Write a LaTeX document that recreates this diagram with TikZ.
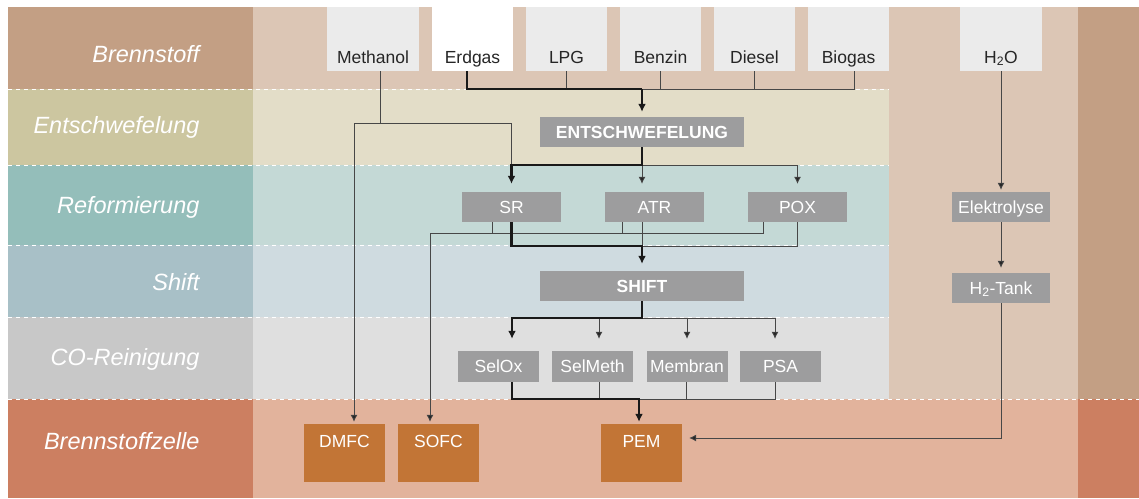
\documentclass[tikz,border=0pt]{standalone}
\usepackage{fontspec}
\setmainfont{Liberation Sans}
\usetikzlibrary{arrows.meta, calc}

\definecolor{fuelLab}{HTML}{C39F84}
\definecolor{fuelMain}{HTML}{DCC6B5}
\definecolor{desLab}{HTML}{CCC6A0}
\definecolor{desMain}{HTML}{E3DDC8}
\definecolor{refLab}{HTML}{94BEBA}
\definecolor{refMain}{HTML}{C4D9D6}
\definecolor{shiftLab}{HTML}{A8C0C7}
\definecolor{shiftMain}{HTML}{CFDBE0}
\definecolor{coLab}{HTML}{C8C8C8}
\definecolor{coMain}{HTML}{DFDFDF}
\definecolor{cellLab}{HTML}{CC7F61}
\definecolor{cellMain}{HTML}{E2B39C}
\definecolor{fuelGrey}{HTML}{EBEBEB}
\definecolor{procGrey}{HTML}{9D9D9E}
\definecolor{cellOrange}{HTML}{C27536}
\definecolor{lineGrey}{HTML}{474747}

\begin{document}
\begin{tikzpicture}[x=1pt, y=-1pt,
    every node/.style={font=\fontsize{17.5}{20}\selectfont},
    fuelbox/.style={rectangle, fill=fuelGrey, inner sep=0pt, minimum width=81pt, text height=56pt, text depth=8pt, text=black!85},
    procbox/.style={rectangle, fill=procGrey, inner sep=0pt, minimum height=30pt, text height=12.5pt, text depth=0pt, text=white},
    cellbox/.style={rectangle, fill=cellOrange, inner sep=0pt, minimum width=81pt, text height=23.5pt, text depth=34.5pt, text=white},
    rowlabel/.style={font=\fontsize{23.5}{28}\selectfont\itshape, text=white, anchor=base east},
    arrow/.style={-{Latex[length=7pt, width=7pt, fill=black!85]}, line width=0.8pt, draw=lineGrey},
    bigarrow/.style={-{Latex[length=8pt, width=8pt]}, line width=2.4pt, draw=black!90},
    thinline/.style={line width=0.8pt, draw=lineGrey},
    thickline/.style={line width=2.4pt, draw=black!90},
    rowsep/.style={white, dash pattern=on 4pt off 4pt, line width=0.8pt}
]

% ============ BACKGROUND ============
\fill[white] (0,0) rectangle (1139,498);
\useasboundingbox (0,0) rectangle (1139,498);

\foreach \top/\bot/\lab/\main in {7/89/fuelLab/fuelMain, 89/165/desLab/desMain, 165/245/refLab/refMain, 245/317/shiftLab/shiftMain, 317/399/coLab/coMain, 399/498/cellLab/cellMain} {
    \fill[\lab] (8,\top) rectangle (253,\bot);
    \fill[\main] (253,\top) rectangle (889,\bot);
}
\fill[fuelMain] (889,7) rectangle (1078,399);
\fill[cellMain] (889,399) rectangle (1078,498);
\fill[fuelLab] (1078,7) rectangle (1139,399);
\fill[cellLab] (1078,399) rectangle (1139,498);

\foreach \y in {89,165,245,317}
    \draw[rowsep] (8,\y) -- (889,\y);
\draw[rowsep] (8,399) -- (1139,399);

% ============ ROW LABELS ============
\node[rowlabel] (labFuel) at (203,62.5) {Brennstoff};
\node[rowlabel] (labDes) at (203,133.5) {Entschwefelung};
\node[rowlabel] (labRef) at (203,213.5) {Reformierung};
\node[rowlabel] (labShift) at (203,290) {Shift};
\node[rowlabel] (labCO) at (203,365) {CO-Reinigung};
\node[rowlabel] (labCell) at (203,449.5) {Brennstoffzelle};

% ============ FUELS ============
\node[fuelbox, minimum width=92pt] (Methanol) at (373,39) {Methanol};
\node[fuelbox, fill=white] (Erdgas) at (472.5,39) {Erdgas};
\node[fuelbox] (LPG) at (566.5,39) {LPG};
\node[fuelbox] (Benzin) at (660.5,39) {Benzin};
\node[fuelbox] (Diesel) at (754.5,39) {Diesel};
\node[fuelbox] (Biogas) at (848.5,39) {Biogas};
\node[fuelbox, minimum width=82pt] (H2O) at (1001,39) {H\textsubscript{2}O};

% ============ PROCESS STEPS ============
\node[procbox, minimum width=204pt, font=\fontsize{17.5}{20}\selectfont\bfseries] (ENT) at (642,132) {ENTSCHWEFELUNG};

\node[procbox, minimum width=99pt] (SR) at (511.5,207) {SR};
\node[procbox, minimum width=99pt] (ATR) at (654.5,207) {ATR};
\node[procbox, minimum width=99pt] (POX) at (797.5,207) {POX};

\node[procbox, minimum width=204pt, font=\fontsize{17.5}{20}\selectfont\bfseries] (SHIFT) at (642,286) {SHIFT};

\node[procbox, minimum width=81pt, minimum height=31pt] (SelOx) at (498.5,366.5) {SelOx};
\node[procbox, minimum width=81pt, minimum height=31pt] (SelMeth) at (592.5,366.5) {SelMeth};
\node[procbox, minimum width=81pt, minimum height=31pt] (Membran) at (687,366.5) {Membran};
\node[procbox, minimum width=81pt, minimum height=31pt] (PSA) at (780.5,366.5) {PSA};

\node[procbox, minimum width=98pt] (Elektrolyse) at (1001,207) {Elektrolyse};
\node[procbox, minimum width=98pt] (Tank) at (1001,288) {H\textsubscript{2}-Tank};

% ============ FUEL CELLS ============
\node[cellbox] (DMFC) at (344.5,453) {DMFC};
\node[cellbox] (SOFC) at (438.5,453) {SOFC};
\node[cellbox] (PEM) at (641.5,453) {PEM};

% ============ JUNCTIONS ============
\coordinate (fuelbus) at (642,89);
\coordinate (methL) at (354,123);
\coordinate (methR) at (511,123);
\coordinate (entbus) at (642,165);
\coordinate (sofcbus) at (430,233);
\coordinate (shiftbus) at (642,246);
\coordinate (cleanbus) at (642,318);
\coordinate (pembus) at (639,399);

% fuels to desulphurisation
\foreach \f in {LPG, Benzin, Diesel}
    \draw[thinline] (\f.south) -- (\f.south |- fuelbus);
\draw[thinline] ([xshift=5.5pt]Biogas.south) |- (fuelbus);
\draw[thickline] ([xshift=-5.5pt]Erdgas.south) |- (fuelbus);
\draw[bigarrow, shorten >=5pt] (fuelbus) -- (ENT.north);

% methanol bypass
\draw[thinline] ([xshift=7pt]Methanol.south) -- ([xshift=7pt]Methanol.south |- methL);
\draw[thinline] (methL) -- (methR) -- (methR |- entbus);
\draw[arrow, shorten >=2pt] (methL) -- (methL |- DMFC.north);

% desulphurisation to reformers
\draw[arrow, shorten >=8pt] (entbus) -| (POX.north);
\draw[arrow, shorten >=8pt] (entbus) -- (entbus |- ATR.north);
\draw[bigarrow, shorten >=8pt] (ENT.south) |- (entbus -| SR.north) -- (SR.north);

% reformers to SOFC
\draw[thinline] ([xshift=-19.5pt]SR.south) -- ([xshift=-19.5pt]SR.south |- sofcbus);
\draw[thinline] ([xshift=-32.5pt]ATR.south) -- ([xshift=-32.5pt]ATR.south |- sofcbus);
\draw[arrow, shorten >=2pt] ([xshift=-34.5pt]POX.south) |- (sofcbus) -- (sofcbus |- SOFC.north);

% reformers to shift
\draw[thinline] ([xshift=-0.5pt]POX.south) |- (shiftbus);
\draw[thinline] ([xshift=-12.5pt]ATR.south) -- (shiftbus);
\draw[bigarrow, shorten >=7pt] (SR.south) |- (shiftbus) -- (SHIFT.north);

% shift to CO cleaning
\foreach \b/\dx in {SelMeth/6.5, Membran/0, PSA/-5.5}
    \draw[arrow, shorten >=12pt] (cleanbus) -| ([xshift=\dx pt]\b.north);
\draw[bigarrow, shorten >=12pt] (SHIFT.south) |- ([xshift=13.5pt]SelOx.north |- cleanbus) -- ([xshift=13.5pt]SelOx.north);

% CO cleaning to PEM
\foreach \b/\dx in {SelMeth/6.5, Membran/-1, PSA/-5.5}
    \draw[thinline] ([xshift=\dx pt]\b.south) |- (pembus);
\draw[bigarrow, shorten >=2pt] ([xshift=13.5pt]SelOx.south) |- (pembus) -- (pembus |- PEM.north);

% water electrolysis path
\draw[arrow, shorten >=2pt] (H2O.south) -- (Elektrolyse.north);
\draw[arrow, shorten >=5pt] (Elektrolyse.south) -- (Tank.north);
\draw[arrow, shorten >=7pt] (Tank.south) |- ([yshift=15pt]PEM.east);

\end{tikzpicture}
\end{document}
